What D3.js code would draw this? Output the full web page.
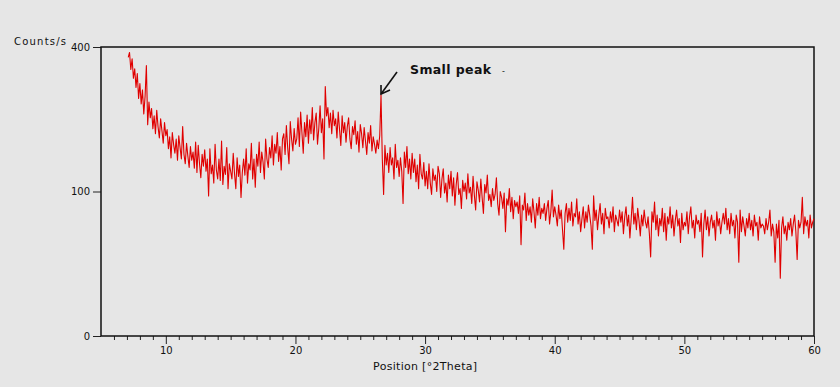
<!DOCTYPE html>
<html>
<head>
<meta charset="utf-8">
<script src="https://cdn.jsdelivr.net/npm/d3@7"></script>
<style>
    body { margin: 0; background: #e6e6e6; }
    text { font-family: "DejaVu Sans", Verdana, sans-serif; fill: #111; }
</style>
</head>
<body>
<div id="my_dataviz"></div>
<script>
//== DATA ================================================//
// scan starts at 7.1 deg 2Theta, step 0.1 deg
var startAngle = 7.1;
var stepAngle = 0.1;
var counts = [
    372, 385, 340, 368, 318, 342, 296, 330, 270, 305, // 7.1 - 8.0
    258, 290, 236, 275, 350, 214, 262, 228, 248, 206,
    232, 196, 244, 210, 188, 226, 202, 178, 218, 192, // 10
    204, 168, 190, 152, 198, 176, 160, 186, 148, 192,
    170, 150, 210, 158, 142, 178, 155, 136, 172, 148,
    162, 135, 180, 128, 174, 142, 120, 158, 138, 166,
    130, 150, 94, 168, 126, 140, 112, 176, 132, 118,
    150, 116, 182, 110, 138, 125, 170, 104, 142, 130, // 15
    118, 160, 126, 104, 152, 122, 140, 92, 128, 150,
    124, 168, 112, 142, 132, 178, 118, 150, 106, 158,
    138, 180, 128, 162, 145, 118, 186, 150, 136, 170,
    152, 192, 140, 176, 160, 198, 146, 172, 132, 186,
    196, 158, 212, 170, 142, 220, 186, 164, 206, 176, // 20
    186, 228, 172, 240, 198, 160, 218, 190, 234, 178,
    224, 196, 250, 184, 218, 238, 176, 206, 254, 198,
    226, 150, 298, 232, 250, 208, 238, 196, 244, 212,
    226, 188, 240, 204, 174, 232, 198, 218, 180, 210,
    228, 186, 168, 210, 194, 222, 176, 200, 162, 214, // 25
    196, 170, 208, 182, 158, 198, 178, 212, 164, 190,
    176, 160, 184, 168, 192, 278, 150, 96, 174, 140,
    160, 128, 170, 140, 152, 118, 176, 136, 148, 122,
    152, 130, 84, 162, 136, 172, 126, 150, 118, 160,
    128, 150, 114, 140, 104, 158, 126, 118, 144, 108, // 30
    130, 104, 142, 112, 96, 134, 116, 124, 100, 138,
    126, 92, 118, 134, 98, 112, 86, 124, 104, 130,
    94, 120, 82, 110, 128, 96, 104, 78, 116, 100,
    112, 90, 126, 98, 106, 84, 122, 95, 76, 114,
    102, 86, 118, 92, 72, 110, 98, 124, 88, 96, // 35
    80, 104, 88, 96, 120, 84, 70, 100, 92, 78,
    98, 52, 90, 82, 104, 74, 92, 66, 88, 80,
    86, 72, 94, 40, 82, 76, 98, 64, 84, 70,
    80, 62, 90, 74, 56, 84, 70, 92, 66, 78,
    72, 84, 64, 78, 88, 60, 74, 102, 68, 80, // 40
    70, 58, 82, 66, 76, 54, 36, 72, 84, 62,
    78, 64, 86, 58, 72, 68, 90, 60, 74, 52,
    66, 80, 56, 74, 62, 82, 70, 58, 36, 94,
    64, 76, 54, 70, 84, 60, 72, 50, 78, 66,
    68, 56, 74, 62, 80, 52, 70, 64, 58, 76, // 45
    62, 74, 50, 68, 80, 58, 70, 46, 66, 92,
    60, 72, 54, 78, 64, 48, 70, 58, 76, 62,
    56, 68, 50, 30, 74, 62, 86, 54, 70, 48,
    66, 58, 78, 52, 72, 44, 68, 60, 80, 56,
    70, 48, 64, 76, 58, 66, 42, 72, 54, 62, // 50
    58, 74, 50, 68, 80, 56, 64, 46, 70, 60,
    64, 52, 72, 30, 60, 76, 54, 68, 48, 62,
    70, 56, 64, 44, 74, 58, 66, 50, 62, 72,
    60, 78, 54, 66, 50, 72, 58, 64, 46, 70,
    62, 26, 76, 52, 68, 58, 48, 66, 56, 72, // 55
    54, 64, 48, 70, 58, 62, 44, 68, 56, 60,
    58, 50, 66, 54, 62, 76, 48, 60, 52, 26,
    60, 46, 64, 16, 56, 68, 50, 58, 44, 62,
    54, 66, 48, 60, 70, 52, 28, 64, 56, 62,
    92, 50, 68, 58, 64, 46, 70, 56, 62, 66  // 59.1 - 60.0
];

var xTickLabels = [10, 20, 30, 40, 50, 60];
var yTickLabels = [0, 100, 400];
var peakAngle = 26.6;
var peakText = "Small peak";

//== PLOT ================================================//
var W = 840,
    H = 387;
var margin = {
        top: 47,
        right: 26,
        bottom: 51,
        left: 101
    },
    width = W - margin.left - margin.right,
    height = H - margin.top - margin.bottom;

var svg = d3.select("#my_dataviz")
    .append("svg")
    .attr("width", W)
    .attr("height", H)
    .style("display", "block");

svg.append("rect")
    .attr("width", W)
    .attr("height", H)
    .attr("fill", "#e6e6e6");

var g = svg.append("g")
    .attr("transform", "translate(" + margin.left + "," + margin.top + ")");

var x = d3.scaleLinear()
    .domain([5, 60])
    .range([0, width]);

// counts axis is square-root scaled
var y = d3.scaleSqrt()
    .domain([0, 400])
    .range([height, 0]);

var data = [];
for (var ii = 0; ii < counts.length; ii++) {
    data.push({
        t: Math.round((startAngle + ii * stepAngle) * 10) / 10,
        c: counts[ii]
    });
}

// minor ticks every degree
var minor = g.append("g")
    .attr("transform", "translate(0," + height + ")")
    .call(d3.axisBottom(x)
        .tickValues(d3.range(6, 60).filter(function (d) { return d % 10 !== 0; }))
        .tickSize(4)
        .tickFormat(""));
minor.select(".domain").remove();

var xAxis = g.append("g")
    .attr("transform", "translate(0," + height + ")")
    .call(d3.axisBottom(x)
        .tickValues(xTickLabels)
        .tickSize(8)
        .tickPadding(3));
xAxis.select(".domain").remove();
xAxis.selectAll("text")
    .attr("font-size", 10)
    .attr("font-family", "DejaVu Sans")
    .attr("fill", "#222");

var yAxis = g.append("g")
    .call(d3.axisLeft(y)
        .tickValues(yTickLabels)
        .tickSize(8)
        .tickPadding(3));
yAxis.select(".domain").remove();
yAxis.selectAll("text")
    .attr("font-size", 10)
    .attr("font-family", "DejaVu Sans")
    .attr("fill", "#222");
g.selectAll(".tick line").attr("stroke", "#222");

// frame
g.append("rect")
    .attr("x", 0)
    .attr("y", 0)
    .attr("width", width)
    .attr("height", height)
    .attr("fill", "none")
    .attr("stroke", "#111")
    .attr("stroke-width", 1.5);

// the scan
g.append("path")
    .datum(data)
    .attr("fill", "none")
    .attr("stroke", "#e00000")
    .attr("stroke-width", 1.1)
    .attr("stroke-linejoin", "round")
    .attr("d", d3.line()
        .x(function (d) { return x(d.t); })
        .y(function (d) { return y(d.c); }));

//-- labels --//
svg.append("text")
    .attr("x", 14)
    .attr("y", 45)
    .attr("font-size", 10)
    .attr("textLength", 52)
    .attr("lengthAdjust", "spacing")
    .text("Counts/s");

g.append("text")
    .attr("text-anchor", "middle")
    .attr("x", x(30))
    .attr("y", height + 34)
    .attr("font-size", 11)
    .attr("textLength", 104)
    .attr("lengthAdjust", "spacing")
    .text("Position [°2Theta]");

// peak annotation
var peakVal = data.find(function (d) { return d.t === peakAngle; }).c;
var tx = x(peakAngle),
    ty = y(peakVal) - 1;

g.append("path")
    .attr("d", "M" + (tx + 16) + "," + (ty - 22) + "L" + tx + "," + ty)
    .attr("stroke", "#111")
    .attr("stroke-width", 1.6)
    .attr("fill", "none");
g.append("path")
    .attr("d", "M" + tx + "," + (ty - 9) + "L" + tx + "," + ty + "L" + (tx + 9) + "," + (ty - 4))
    .attr("stroke", "#111")
    .attr("stroke-width", 1.6)
    .attr("fill", "none");

g.append("text")
    .attr("x", tx + 29)
    .attr("y", ty - 20)
    .attr("font-size", 12.5)
    .attr("font-weight", "bold")
    .attr("textLength", 81)
    .attr("lengthAdjust", "spacing")
    .text(peakText);

g.append("text")
    .attr("x", tx + 121)
    .attr("y", ty - 20)
    .attr("font-size", 8)
    .attr("fill", "#999")
    .text("-");
</script>
</body>
</html>
